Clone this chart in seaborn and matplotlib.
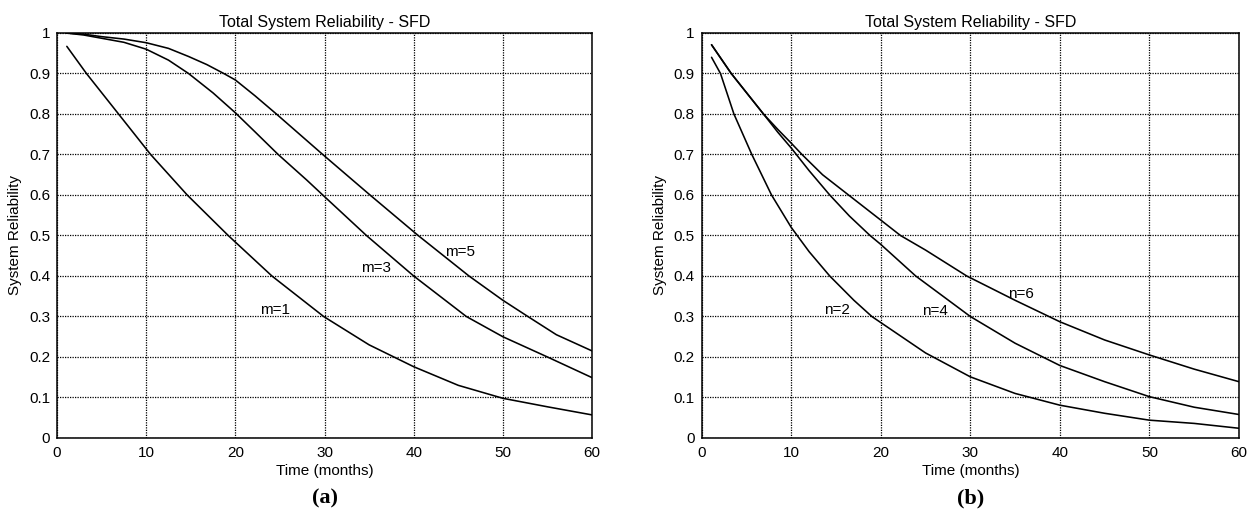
import matplotlib
matplotlib.use("Agg")
import matplotlib.pyplot as plt
import seaborn as sns
import pandas as pd

# ---- data ----
# panel (a)
m1_t = [1.1, 3.3, 6.9, 10.5, 14.6, 19.2, 24.1, 29.9, 35, 40, 45, 50, 55, 60]
m1_r = [0.967, 0.9, 0.8, 0.7, 0.6, 0.5, 0.4, 0.3, 0.23, 0.176, 0.13, 0.098, 0.077, 0.057]

m3_t = [1, 3, 5, 7.5, 10, 12.5, 14.75, 17.5, 20, 22.2, 24.8, 28, 29.8, 34.7, 40, 45.9, 50, 55, 60]
m3_r = [1.0, 0.995, 0.987, 0.977, 0.96, 0.933, 0.9, 0.852, 0.803, 0.756, 0.7, 0.637, 0.6, 0.5,
        0.4, 0.3, 0.25, 0.2, 0.149]

m5_t = [1, 3, 5, 7.5, 10, 12.5, 14.75, 16.8, 18.7, 20, 22.2, 24.6, 29.8, 35.1, 40.5, 46.2,
        50, 52.8, 56, 60]
m5_r = [1.0, 0.997, 0.991, 0.985, 0.976, 0.962, 0.942, 0.922, 0.9, 0.884, 0.845, 0.8, 0.7,
        0.6, 0.5, 0.4, 0.34, 0.3, 0.255, 0.215]

# panel (b)
n2_t = [1.1, 2.1, 3.6, 5.6, 7.8, 10, 12, 14.3, 17, 19, 20, 25, 30, 35, 40, 45, 50, 55, 60]
n2_r = [0.94, 0.9, 0.8, 0.7, 0.6, 0.52, 0.46, 0.4, 0.34, 0.3, 0.285, 0.21, 0.151, 0.11,
        0.081, 0.061, 0.044, 0.036, 0.024]

n4_t = [1.1, 3.3, 6.9, 8.5, 10, 12, 14.3, 16.5, 18.8, 20, 23.9, 30, 35, 40, 45, 50, 55, 60]
n4_r = [0.971, 0.9, 0.8, 0.755, 0.716, 0.66, 0.6, 0.548, 0.5, 0.478, 0.4, 0.3, 0.234,
        0.179, 0.139, 0.102, 0.076, 0.058]

n6_t = [1.1, 3.3, 6.9, 8.5, 10, 11.2, 13.5, 16.4, 20, 22.2, 25, 29.6, 35, 40, 45, 50, 55, 60]
n6_r = [0.971, 0.9, 0.8, 0.762, 0.728, 0.7, 0.65, 0.6, 0.538, 0.5, 0.464, 0.4, 0.34, 0.287,
        0.242, 0.205, 0.17, 0.139]

labels_a = ["m=1", "m=3", "m=5"]
labels_b = ["n=2", "n=4", "n=6"]
label_pos_a = [(24.4, 0.316), (35.8, 0.42), (45.2, 0.46)]
label_pos_b = [(15.1, 0.316), (26.0, 0.314), (35.7, 0.355)]

x_ticks = [0, 10, 20, 30, 40, 50, 60]
y_ticks = [0, 0.1, 0.2, 0.3, 0.4, 0.5, 0.6, 0.7, 0.8, 0.9, 1]
y_tick_labels = ["0", "0.1", "0.2", "0.3", "0.4", "0.5", "0.6", "0.7", "0.8", "0.9", "1"]

title = "Total System Reliability - SFD"
xlabel = "Time (months)"
ylabel = "System Reliability"
panel_tags = ["(a)", "(b)"]

sns.set_style("white")
plt.rcParams["font.family"] = ["Liberation Sans", "DejaVu Sans"]
plt.rcParams["text.color"] = "black"
plt.rcParams["axes.labelcolor"] = "black"
plt.rcParams["xtick.color"] = "black"
plt.rcParams["ytick.color"] = "black"


def build_df(ts, rs, names):
    frames = []
    for t, r, n in zip(ts, rs, names):
        frames.append(pd.DataFrame({"Time": t, "Reliability": r, "series": n}))
    return pd.concat(frames, ignore_index=True)


df_a = build_df([m1_t, m3_t, m5_t], [m1_r, m3_r, m5_r], labels_a)
df_b = build_df([n2_t, n4_t, n6_t], [n2_r, n4_r, n6_r], labels_b)

fig = plt.figure(figsize=(12.53, 5.27), dpi=100)
ax_a = fig.add_axes([0.0455, 0.1689, 0.427, 0.7685])
ax_b = fig.add_axes([0.560, 0.1689, 0.4288, 0.7685])

for ax, df, labs, pos, tag in [
    (ax_a, df_a, labels_a, label_pos_a, panel_tags[0]),
    (ax_b, df_b, labels_b, label_pos_b, panel_tags[1]),
]:
    sns.lineplot(data=df, x="Time", y="Reliability", hue="series",
                 palette=["black"] * 3, linewidth=1.15, legend=False,
                 sort=False, estimator=None, ax=ax)
    ax.set_xlim(0, 60)
    ax.set_ylim(0, 1)
    ax.set_xticks(x_ticks)
    ax.set_xticklabels([str(v) for v in x_ticks])
    ax.set_yticks(y_ticks)
    ax.set_yticklabels(y_tick_labels)
    ax.tick_params(axis="both", direction="in", length=4, width=0.8,
                   labelsize=11, colors="black")
    ax.tick_params(axis="x", pad=6)
    ax.tick_params(axis="y", pad=5)
    ax.grid(True, color="black", linestyle=(0, (1, 1)), linewidth=0.9)
    for s in ax.spines.values():
        s.set_visible(True)
        s.set_color("black")
        s.set_linewidth(1.1)
    ax.set_title(title, fontsize=11.5, pad=4, color="black")
    ax.set_xlabel(xlabel, fontsize=11, labelpad=3, color="black")
    ax.set_ylabel(ylabel, fontsize=11, labelpad=5, color="black")
    for lab, (x, y) in zip(labs, pos):
        ax.text(x, y, lab, fontsize=11, ha="center", va="center", color="black")
    bb = ax.get_position()
    fig.text((bb.x0 + bb.x1) / 2, 0.055, tag, ha="center", va="center",
             fontsize=16, fontweight="bold", family="Liberation Serif",
             color="black")

fig.savefig("out.png", dpi=100, facecolor="white")
